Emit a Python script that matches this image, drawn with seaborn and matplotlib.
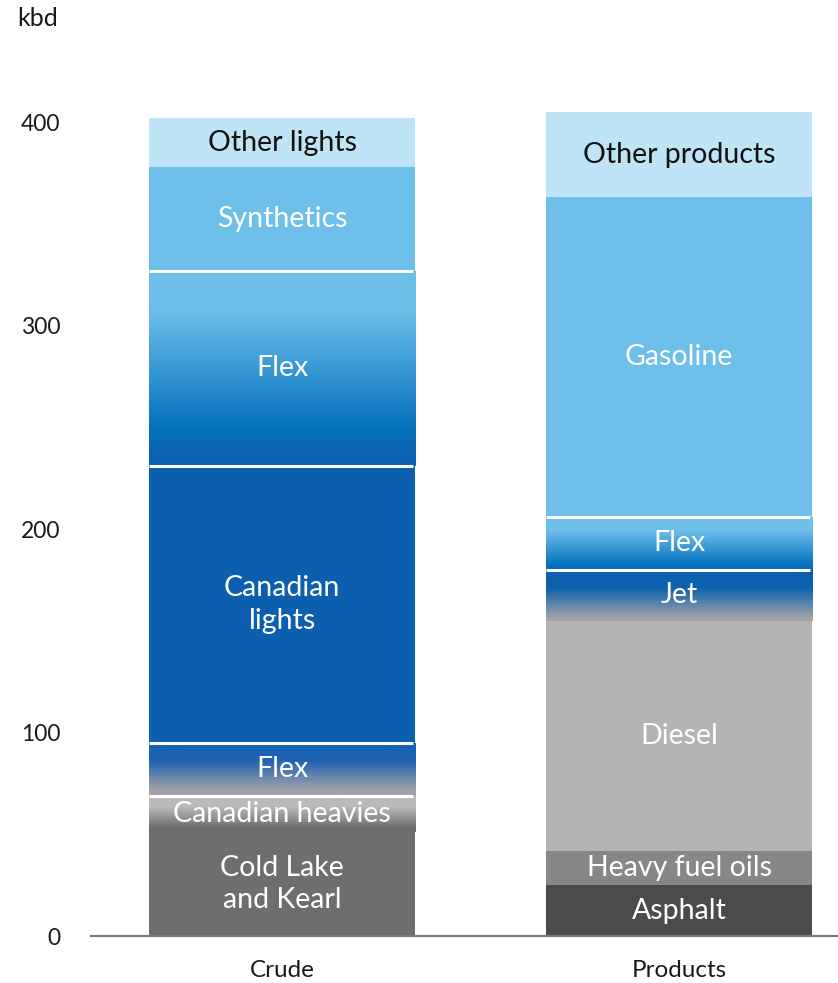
import numpy as np
import matplotlib
matplotlib.use("Agg")
import matplotlib.pyplot as plt
import seaborn as sns
from matplotlib.colors import LinearSegmentedColormap

# ---- data (kbd) ----
categories = ["Crude", "Products"]

crude_labels = ["Cold Lake\nand Kearl", "Canadian heavies", "Flex",
                "Canadian\nlights", "Flex", "Synthetics", "Other lights"]
crude_values = [51, 18, 26, 136, 96, 51, 24]

product_labels = ["Asphalt", "Heavy fuel oils", "Diesel", "Jet", "Flex",
                  "Gasoline", "Other products"]
product_values = [25, 17, 113, 25, 26, 157, 42]

y_ticks = [0, 100, 200, 300, 400]
unit_label = "kbd"

# ---- styles: colour stops from bottom (0) to top (1) of each segment ----
LIGHT_BLUE = "#6ebfea"
PALE_BLUE = "#bee4f5"
DARK_BLUE = "#0b5fae"
MID_BLUE = "#0572be"

crude_styles = [
    dict(stops=[(0, "#6e6e6e")], text="white", line=False),
    dict(stops=[(0, "#6e6e6e"), (0.12, "#6e6e6e"), (0.68, "#bababa"), (1, "#bababa")], text="white", line=True),
    dict(stops=[(0, "#a3a3a6"), (0.12, "#a0a1a8"), (0.68, "#1d62b1"), (1, "#1762b3")], text="white", line=True),
    dict(stops=[(0, DARK_BLUE)], text="white", line=True),
    dict(stops=[(0, "#0d5fae"), (0.1, "#0b66b5"), (0.2, MID_BLUE), (0.8, LIGHT_BLUE), (1, LIGHT_BLUE)], text="white", line=True),
    dict(stops=[(0, LIGHT_BLUE)], text="white", line=False),
    dict(stops=[(0, PALE_BLUE)], text="#111111", line=False),
]

product_styles = [
    dict(stops=[(0, "#4b4b4b")], text="white", line=False),
    dict(stops=[(0, "#878787")], text="white", line=False),
    dict(stops=[(0, "#b4b4b4")], text="white", line=False),
    dict(stops=[(0, "#a6a6a6"), (0.05, "#a3a4a8"), (0.65, "#0d62ae"), (1, DARK_BLUE)], text="white", line=True),
    dict(stops=[(0, "#0a68b8"), (0.1, MID_BLUE), (0.75, LIGHT_BLUE), (1, LIGHT_BLUE)], text="white", line=True),
    dict(stops=[(0, LIGHT_BLUE)], text="white", line=False),
    dict(stops=[(0, PALE_BLUE)], text="#111111", line=False),
]

BAR_W = 0.67
LABEL_SIZE = 20.5

sns.set_theme(style="white")
plt.rcParams["font.family"] = ["Lato", "DejaVu Sans"]

fig = plt.figure(figsize=(8.38, 9.83), dpi=100)
ax = fig.add_axes([0.1086, 0.0478, 0.8914, 0.890])


def draw_stack(cat, labels, values, styles):
    xi = categories.index(cat)
    bottoms = np.concatenate([[0], np.cumsum(values)[:-1]])
    for lab, val, bot, st in zip(labels, values, bottoms, styles):
        before = len(ax.patches)
        sns.barplot(x=[cat], y=[val], order=categories, bottom=bot,
                    color=st["stops"][0][1], saturation=1, width=BAR_W,
                    errorbar=None, linewidth=0, antialiased=False, ax=ax)
        new = [p for p in ax.patches[before:]
               if np.isfinite(p.get_height()) and p.get_height() > 0]
        patch = new[-1]
        x0, y0 = patch.get_x(), patch.get_y()
        w, h = patch.get_width(), patch.get_height()
        if len(st["stops"]) > 1:
            cmap = LinearSegmentedColormap.from_list("seg", st["stops"])
            img = cmap(np.linspace(0, 1, 256))[:, None, :]
            im = ax.imshow(img, extent=[x0, x0 + w, y0, y0 + h], origin="lower",
                           aspect="auto", interpolation="bilinear",
                           zorder=patch.get_zorder() + 0.1)
            im.set_clip_path(patch)
        if st["line"]:
            ax.hlines(y0 + h, x0, x0 + w - 0.005, color="white", lw=2.2, zorder=5)
        ax.text(xi, y0 + h / 2, lab, ha="center", va="center",
                color=st["text"], fontsize=LABEL_SIZE, fontweight="normal",
                linespacing=1.3, zorder=6)


draw_stack("Crude", crude_labels, crude_values, crude_styles)
draw_stack("Products", product_labels, product_values, product_styles)

ax.set_xlim(-0.481, 1.40)
ax.set_ylim(0, 430)
ax.set_yticks(y_ticks)
ax.set_yticklabels([str(t) for t in y_ticks])
ax.set_xticks(range(len(categories)))
ax.set_xticklabels(categories)
ax.set_xlabel("")
ax.set_ylabel("")
ax.tick_params(axis="y", length=0, pad=22, labelsize=16.5, labelcolor="#1a1a1a")
ax.tick_params(axis="x", length=0, pad=17, labelsize=17.5, labelcolor="#1a1a1a")
for s in ["left", "top", "right"]:
    ax.spines[s].set_visible(False)
ax.spines["bottom"].set_color("#7a7a7a")
ax.spines["bottom"].set_linewidth(1.6)
ax.spines["bottom"].set_zorder(7)
ax.grid(False)

fig.text(17 / 838, 1 - 18 / 983, unit_label, ha="left", va="center",
         fontsize=18, color="#1a1a1a")

fig.savefig("out.png", dpi=100)
